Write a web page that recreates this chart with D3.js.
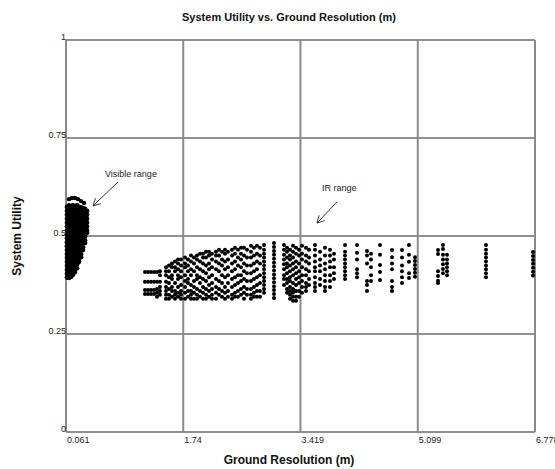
<!DOCTYPE html>
<html><head><meta charset="utf-8">
<script src="https://cdn.jsdelivr.net/npm/d3@7"></script>
<style>
body{margin:0;background:#fff;}
text{font-family:"Liberation Sans",Arial,sans-serif;}
</style></head>
<body><svg id="c" width="555" height="469"></svg>
<script>
const title = "System Utility vs. Ground Resolution (m)";
const xTitle = "Ground Resolution (m)";
const yTitle = "System Utility";
const xTicks = [0.061, 1.74, 3.419, 5.099, 6.778];
const xTickLabels = ["0.061", "1.74", "3.419", "5.099", "6.778"];
const yTicks = [0, 0.25, 0.5, 0.75, 1];
const yTickLabels = ["0", "0.25", "0.5", "0.75", "1"];

// Visible range cluster (columns of points)
const visColX = [0.075, 0.104, 0.133, 0.161, 0.190, 0.219, 0.247, 0.276, 0.304, 0.333, 0.362];
const visColY = [
 [0.574,0.564,0.554,0.544,0.534,0.524,0.514,0.504,0.494,0.484,0.474,0.464,0.454,0.444,0.434,0.424,0.414,0.404,0.394],
 [0.578,0.568,0.558,0.548,0.538,0.528,0.518,0.508,0.498,0.488,0.478,0.468,0.458,0.448,0.438,0.428,0.418,0.408,0.398,0.393],
 [0.574,0.564,0.554,0.544,0.534,0.524,0.514,0.504,0.494,0.484,0.474,0.464,0.454,0.444,0.434,0.424,0.414,0.404,0.396],
 [0.578,0.568,0.558,0.548,0.538,0.528,0.518,0.508,0.498,0.488,0.478,0.468,0.458,0.448,0.438,0.428,0.418,0.408,0.401],
 [0.574,0.564,0.554,0.544,0.534,0.524,0.514,0.504,0.494,0.484,0.474,0.464,0.454,0.444,0.434,0.424,0.414,0.408],
 [0.578,0.568,0.558,0.548,0.538,0.528,0.518,0.508,0.498,0.488,0.478,0.468,0.458,0.448,0.438,0.428,0.418],
 [0.574,0.564,0.554,0.544,0.534,0.524,0.514,0.504,0.494,0.484,0.474,0.464,0.454,0.444,0.434],
 [0.573,0.563,0.553,0.543,0.533,0.523,0.513,0.503,0.493,0.483,0.473,0.463,0.453,0.446],
 [0.571,0.561,0.551,0.541,0.531,0.521,0.511,0.501,0.491,0.481,0.471,0.464],
 [0.569,0.559,0.549,0.539,0.529,0.519,0.509,0.499,0.489,0.482],
 [0.564,0.554,0.544,0.534,0.524,0.514,0.508]
];
const visArcX = [0.104, 0.147, 0.190, 0.233, 0.276, 0.319];
const visArcY = [0.594, 0.597, 0.597, 0.594, 0.589, 0.584];

// IR range (columns of points)
const irColX = [1.192,1.235,1.278,1.321,1.364,1.407,1.493,1.536,1.579,1.622,1.665,1.708,1.766,1.808,1.851,1.894,1.937,1.980,2.023,2.066,2.109,2.152,2.209,2.252,2.295,2.338,2.381,2.438,2.481,2.524,2.567,2.610,2.653,2.710,2.753,2.796,2.839,2.897,3.040,3.183,3.226,3.269,3.312,3.355,3.398,3.441,3.498,3.541,3.627,3.699,3.770,3.842,3.899,4.057,4.229,4.372,4.429,4.558,4.730,4.873,4.973,5.059,5.389,5.460,5.518,6.076,6.750];
const irColY = [
 [0.408,0.383,0.362,0.352],
 [0.408,0.383,0.362,0.352],
 [0.408,0.383,0.362,0.352],
 [0.408,0.383,0.362,0.352],
 [0.408,0.383,0.365,0.355,0.345],
 [0.41,0.40,0.383,0.37,0.36,0.35],
 [0.42,0.41,0.40,0.383,0.37,0.36,0.35,0.34],
 [0.425,0.41,0.395,0.38,0.365,0.35,0.34],
 [0.43,0.42,0.40,0.39,0.37,0.36,0.345],
 [0.435,0.42,0.41,0.38,0.36,0.35,0.34],
 [0.44,0.43,0.415,0.40,0.39,0.37,0.355,0.345],
 [0.44,0.425,0.41,0.395,0.375,0.36,0.35,0.34],
 [0.445,0.43,0.42,0.40,0.385,0.37,0.355,0.34],
 [0.44,0.425,0.41,0.39,0.38,0.36,0.345],
 [0.45,0.435,0.415,0.40,0.375,0.36,0.35,0.34],
 [0.445,0.43,0.41,0.385,0.37,0.355,0.34],
 [0.45,0.44,0.42,0.40,0.39,0.365,0.35,0.34],
 [0.455,0.435,0.415,0.395,0.38,0.36,0.345],
 [0.455,0.445,0.43,0.41,0.39,0.37,0.355,0.34],
 [0.46,0.445,0.425,0.405,0.385,0.365,0.35,0.34],
 [0.46,0.45,0.43,0.415,0.395,0.375,0.36,0.345],
 [0.455,0.44,0.42,0.40,0.38,0.365,0.35,0.34],
 [0.46,0.45,0.435,0.415,0.39,0.37,0.355,0.34],
 [0.465,0.45,0.43,0.41,0.385,0.365,0.35],
 [0.46,0.44,0.425,0.40,0.38,0.36,0.345],
 [0.465,0.455,0.435,0.415,0.395,0.37,0.355,0.34],
 [0.46,0.44,0.42,0.40,0.38,0.36,0.345],
 [0.465,0.45,0.43,0.41,0.39,0.37,0.35,0.34],
 [0.47,0.455,0.435,0.415,0.395,0.375,0.355,0.345],
 [0.465,0.445,0.425,0.40,0.38,0.36,0.345],
 [0.47,0.455,0.44,0.42,0.40,0.385,0.365,0.35],
 [0.47,0.45,0.43,0.41,0.39,0.37,0.355,0.34],
 [0.465,0.445,0.425,0.405,0.385,0.365,0.35],
 [0.475,0.46,0.445,0.425,0.405,0.385,0.365,0.35,0.34],
 [0.47,0.45,0.43,0.41,0.39,0.37,0.355,0.345],
 [0.475,0.455,0.435,0.415,0.395,0.375,0.36,0.345],
 [0.47,0.45,0.43,0.40,0.38,0.36,0.345],
 [0.477,0.465,0.455,0.445,0.435,0.425,0.415,0.405,0.395,0.385,0.375,0.365,0.355],
 [0.482,0.472,0.462,0.452,0.442,0.432,0.422,0.412,0.402,0.392,0.382,0.372,0.362,0.352,0.342],
 [0.477,0.465,0.452,0.44,0.428,0.415,0.40,0.39,0.375],
 [0.47,0.46,0.445,0.43,0.42,0.405,0.39,0.38,0.365,0.355],
 [0.465,0.45,0.44,0.425,0.41,0.395,0.385,0.37,0.36,0.35,0.34],
 [0.475,0.46,0.445,0.43,0.415,0.40,0.38,0.365,0.355,0.345,0.335],
 [0.47,0.455,0.435,0.42,0.405,0.39,0.375,0.36,0.345,0.335],
 [0.465,0.45,0.43,0.41,0.395,0.38,0.36,0.345],
 [0.475,0.455,0.44,0.42,0.40,0.385,0.37,0.355],
 [0.47,0.45,0.435,0.415,0.40,0.38,0.37,0.36],
 [0.465,0.445,0.43,0.41,0.39,0.375],
 [0.477,0.465,0.45,0.435,0.42,0.41,0.395,0.38,0.37,0.36],
 [0.46,0.44,0.425,0.41,0.39,0.375],
 [0.47,0.45,0.43,0.415,0.40,0.385,0.37,0.36],
 [0.465,0.45,0.435,0.42,0.40,0.385,0.37],
 [0.455,0.44,0.42,0.405,0.39],
 [0.477,0.46,0.45,0.44,0.43,0.42,0.41,0.40,0.39],
 [0.477,0.457,0.44,0.415,0.405,0.395],
 [0.462,0.45,0.43,0.385,0.375,0.36],
 [0.455,0.44,0.42,0.40,0.385],
 [0.477,0.452,0.426,0.408,0.388],
 [0.464,0.446,0.43,0.415,0.385,0.37,0.36],
 [0.464,0.445,0.425,0.41,0.395,0.38],
 [0.477,0.452,0.434,0.405,0.393],
 [0.446,0.436,0.426,0.416,0.406,0.396],
 [0.464,0.454,0.41,0.398,0.386,0.38],
 [0.477,0.467,0.452,0.44,0.428,0.416,0.405],
 [0.452,0.44,0.43,0.42,0.41,0.40],
 [0.477,0.465,0.455,0.445,0.435,0.425,0.415,0.405,0.395],
 [0.459,0.449,0.439,0.429,0.419,0.409,0.399]
];

const annLabels = ["Visible range", "IR range"];
const annTextX = [0.620, 3.727];
const annTextY = [0.651, 0.615];
const annFromX = [0.806, 3.942];
const annFromY = [0.638, 0.587];
const annToX = [0.448, 3.656];
const annToY = [0.577, 0.533];

const svg = d3.select("#c");
const M = {left:66, right:535, top:40, bottom:432};
const x = d3.scaleLinear().domain([0.061, 6.778]).range([M.left, M.right]);
const y = d3.scaleLinear().domain([0, 1]).range([M.bottom, M.top]);

// Horizontal gridlines (dark)
svg.append("g").selectAll("line").data(yTicks).join("line")
  .attr("x1", M.left).attr("x2", M.right)
  .attr("y1", d => y(d)).attr("y2", d => y(d))
  .attr("stroke", "#222").attr("stroke-width", 1.2);
// Vertical gridlines (gray)
svg.append("g").selectAll("line").data(xTicks).join("line")
  .attr("x1", d => x(d)).attr("x2", d => x(d))
  .attr("y1", M.top).attr("y2", M.bottom)
  .attr("stroke", "#8a8a8a").attr("stroke-width", 2);

// Axes (labels only)
const xAxis = d3.axisBottom(x).tickValues(xTicks).tickSize(0).tickFormat((d,i) => xTickLabels[i]);
const gx = svg.append("g").attr("transform", `translate(0,${M.bottom})`).call(xAxis);
gx.select(".domain").remove();
gx.selectAll("text").attr("text-anchor", "start").attr("dx", "0.5").attr("y", 5)
  .attr("font-size", 9).attr("fill", "#222").attr("font-family", "Liberation Sans, Arial, sans-serif");

const yAxis = d3.axisLeft(y).tickValues(yTicks).tickSize(0).tickFormat((d,i) => yTickLabels[i]);
const gy = svg.append("g").attr("transform", `translate(${M.left},0)`).call(yAxis);
gy.select(".domain").remove();
gy.selectAll("text").attr("x", 0).attr("dy", "-1").attr("dominant-baseline", "auto")
  .attr("font-size", 9).attr("fill", "#222").attr("font-family", "Liberation Sans, Arial, sans-serif");

// Points
const pts = [];
visColX.forEach((cx, i) => visColY[i].forEach(v => pts.push({x: cx, y: v, r: 2.4})));
visArcX.forEach((cx, i) => pts.push({x: cx, y: visArcY[i], r: 2.2}));
irColX.forEach((cx, i) => irColY[i].forEach(v => pts.push({x: cx, y: v, r: 2.0})));
svg.append("g").selectAll("circle").data(pts).join("circle")
  .attr("cx", d => x(d.x)).attr("cy", d => y(d.y)).attr("r", d => d.r).attr("fill", "#000");

// Annotations
annLabels.forEach((lab, i) => {
  svg.append("text").attr("x", x(annTextX[i])).attr("y", y(annTextY[i]))
    .attr("font-size", 9).attr("fill", "#222").text(lab);
  const x1 = x(annFromX[i]), y1 = y(annFromY[i]), x2 = x(annToX[i]), y2 = y(annToY[i]);
  svg.append("line").attr("x1", x1).attr("y1", y1).attr("x2", x2).attr("y2", y2)
    .attr("stroke", "#222").attr("stroke-width", 0.9);
  const ang = Math.atan2(y1 - y2, x1 - x2);
  [-0.5, 0.5].forEach(da => {
    svg.append("line").attr("x1", x2).attr("y1", y2)
      .attr("x2", x2 + 8 * Math.cos(ang + da)).attr("y2", y2 + 8 * Math.sin(ang + da))
      .attr("stroke", "#222").attr("stroke-width", 0.9);
  });
});

// Titles
svg.append("text").attr("x", 289).attr("y", 21).attr("text-anchor", "middle")
  .attr("font-size", 11).attr("font-weight", "bold").attr("fill", "#111").text(title);
svg.append("text").attr("x", 289).attr("y", 464).attr("text-anchor", "middle")
  .attr("font-size", 12).attr("font-weight", "bold").attr("fill", "#111").text(xTitle);
svg.append("text").attr("transform", "translate(21,236) rotate(-90)").attr("text-anchor", "middle")
  .attr("font-size", 12).attr("font-weight", "bold").attr("fill", "#111").text(yTitle);
</script></body></html>
